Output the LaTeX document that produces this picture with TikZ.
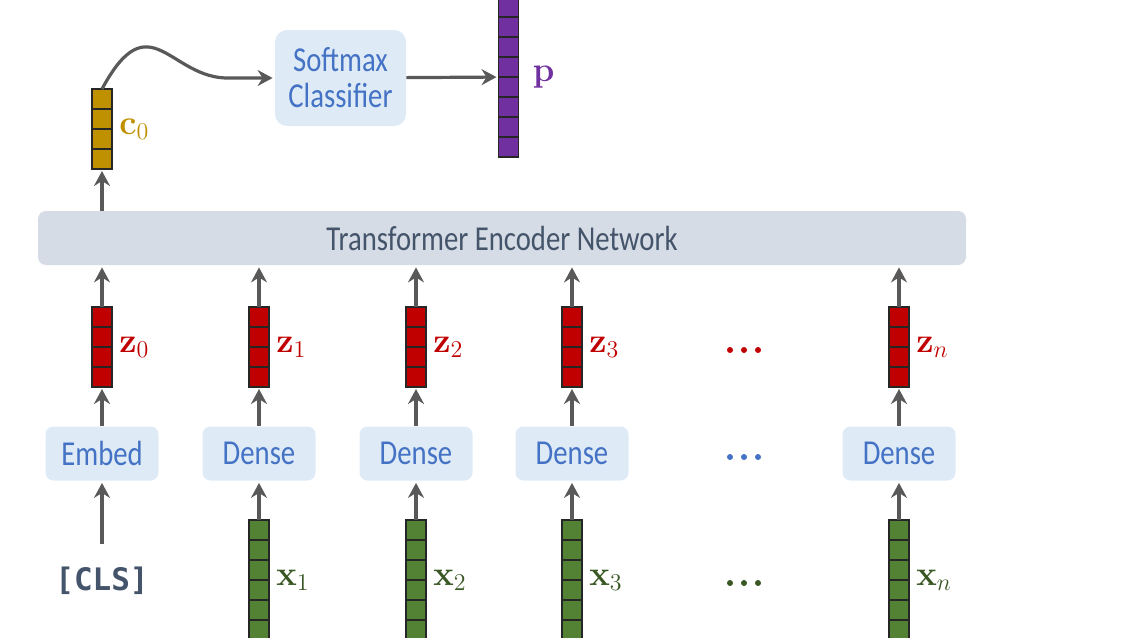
\documentclass[tikz,border=0pt]{standalone}
\usepackage{amsmath,amssymb}
\usepackage[no-math]{fontspec}
\setmainfont{Carlito}[FakeStretch=0.82]
\newfontfamily\codefont{DejaVu Sans Mono}[BoldFont={DejaVu Sans Mono Bold}]
\usetikzlibrary{arrows.meta,positioning,calc}
\definecolor{arrowgray}{RGB}{89,89,89}
\definecolor{cellline}{RGB}{38,38,38}
\definecolor{boxblue}{RGB}{222,235,247}
\definecolor{textblue}{RGB}{68,114,196}
\definecolor{encfill}{RGB}{214,220,229}
\definecolor{slate}{RGB}{68,84,106}
\definecolor{zred}{RGB}{192,0,0}
\definecolor{xgreen}{RGB}{84,130,53}
\definecolor{xlabel}{RGB}{56,87,35}
\definecolor{cgold}{RGB}{191,144,0}
\definecolor{ppurple}{RGB}{112,48,160}

% vector of cells: name, x, top y, number of cells, colour
\newcommand{\cellvec}[5]{%
  \node[vecbox, fill=#5, minimum height=#4*10pt] (#1) at (#2,#3) {};
  \pgfmathtruncatemacro{\lastcell}{#4-1}
  \foreach \k in {1,...,\lastcell}
    \draw[draw=cellline, line width=0.6pt] ($(#1.north west)+(0,\k*20)$) -- ++(20,0);
}

\begin{document}
\begin{tikzpicture}[x=0.5pt, y=-0.5pt,
    flow/.style={-{Stealth[length=7.5pt,width=8pt,inset=2.5pt]}, line width=1.6pt, draw=arrowgray, shorten >=1pt},
    layerbox/.style={fill=boxblue, rounded corners=4pt, text=textblue, font=\fontsize{17.5}{18}\selectfont, minimum width=56.5pt, minimum height=27pt, align=center, inner sep=0pt},
    vecbox/.style={draw=cellline, line width=0.6pt, minimum width=10pt, inner sep=0pt, outer sep=0pt, anchor=north},
    veclabel/.style={font=\fontsize{18}{20}\selectfont, inner sep=1pt, right=2.5pt of #1}
  ]
    \useasboundingbox (0,0) rectangle (1138,637);
    \clip (0,0) rectangle (1138,637);

    % Encoder
    \node[fill=encfill, rounded corners=4pt, text=slate, font=\fontsize{17.5}{18}\selectfont,
      minimum width=464pt, minimum height=27pt, inner sep=0pt] (enc) at (502,238) {Transformer Encoder Network};

    % [CLS] column
    \node[font=\codefont\bfseries\fontsize{15.5}{17}\selectfont, text=slate] (cls) at (102,581) {[CLS]};
    \node[layerbox] (embed) at (102,453.5) {Embed};
    \cellvec{z0}{102}{307}{4}{zred}
    \node[veclabel=z0, text=zred] (z0lab) {$\mathbf{z}_0$};
    \draw[flow, shorten <=8pt] (cls) -- (embed);
    \draw[flow] (embed) -- (z0);
    \draw[flow] (z0) -- (z0 |- enc.south);

    % Token columns
    \foreach \i/\x in {1/259,2/416,3/572,n/899} {
      \node[layerbox] (dense\i) at (\x,453.5) {Dense};
      \cellvec{z\i}{\x}{307}{4}{zred}
      \node[veclabel=z\i, text=zred] (z\i lab) {$\mathbf{z}_\i$};
      \cellvec{x\i}{\x}{520}{6}{xgreen}
      \node[veclabel=x\i, text=xlabel] (x\i lab) {$\mathbf{x}_\i$};
      \draw[flow] (x\i) -- (dense\i);
      \draw[flow] (dense\i) -- (z\i);
      \draw[flow] (z\i) -- (z\i |- enc.south);
    }

    % Dots
    \foreach \d in {730,744,758} {
      \fill[zred] (\d,350) circle (1.5pt);
      \fill[textblue] (\d,457) circle (1.5pt);
      \fill[xlabel] (\d,583) circle (1.5pt);
    }

    % Classification head
    \cellvec{c0}{102}{89}{4}{cgold}
    \node[veclabel=c0, text=cgold] (c0lab) {$\mathbf{c}_0$};
    \draw[flow] (c0 |- enc.north) -- (c0);
    \node[layerbox, rounded corners=6pt, minimum width=65.5pt, minimum height=48pt] (softmax) at (340.5,78) {Softmax\\Classifier};
    \draw[flow] (c0.north) .. controls (150,0) and (170,80) .. (230,78) -- (softmax.west);
    \cellvec{p}{508.5}{-3}{8}{ppurple}
    \node[veclabel=p, right=6pt of p, text=ppurple] (plab) {$\mathbf{p}$};
    \draw[flow] (softmax) -- (p);
\end{tikzpicture}
\end{document}
